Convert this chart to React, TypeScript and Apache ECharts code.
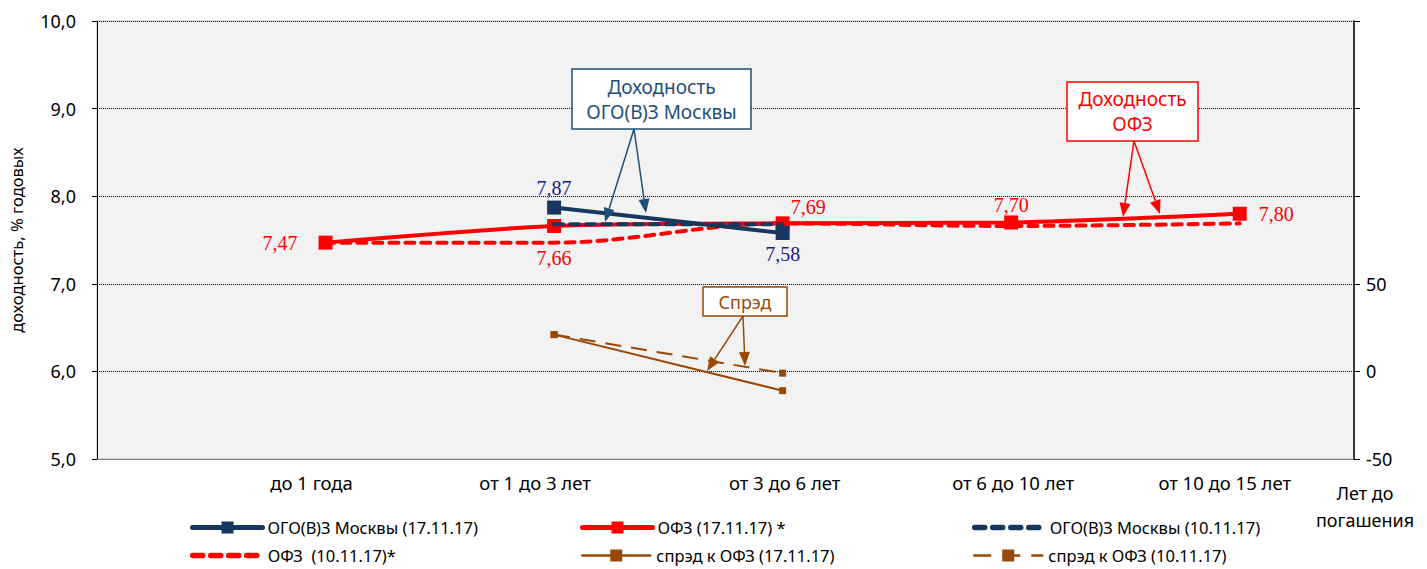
import React, { useEffect, useRef } from "react";
import * as echarts from "echarts";

const categories = ["до 1 года", "от 1 до 3 лет", "от 3 до 6 лет", "от 6 до 10 лет", "от 10 до 15 лет"];
const ogoNov17: (number | null)[] = [null, 7.87, 7.58, null, null];
const ofzNov17: (number | null)[] = [7.47, 7.66, 7.69, 7.7, 7.8];
const ogoNov10: (number | null)[] = [null, 7.68, 7.68, null, null];
const ofzNov10: (number | null)[] = [7.47, 7.47, 7.69, 7.66, 7.69];
const spreadNov17: (number | null)[] = [null, 21, -11, null, null];
const spreadNov10: (number | null)[] = [null, 21, -1, null, null];

const names = [
  "ОГО(В)З Москвы (17.11.17)",
  "ОФЗ (17.11.17) *",
  "ОГО(В)З Москвы (10.11.17)",
  "ОФЗ  (10.11.17)*",
  "спрэд к ОФЗ (17.11.17)",
  "спрэд к ОФЗ (10.11.17)",
];

const NAVY = "#17375e";
const RED = "#ff0000";
const BROWN = "#984807";
const SANS = "'Noto Sans', sans-serif";
const SERIF = "'Liberation Serif', 'DejaVu Serif', serif";

const fmt = (v: number) => v.toFixed(2).replace(".", ",");

function pairs(arr: (number | null)[]) {
  const out: any[] = [];
  arr.forEach((v, i) => {
    if (v !== null) out.push([i, v]);
  });
  return out;
}

function arrow(x1: number, y1: number, x2: number, y2: number, color: string) {
  const dx = x2 - x1;
  const dy = y2 - y1;
  const len = Math.sqrt(dx * dx + dy * dy);
  const ux = dx / len;
  const uy = dy / len;
  const hl = 14;
  const hw = 5.5;
  const bx = x2 - ux * hl;
  const by = y2 - uy * hl;
  return [
    {
      type: "line",
      shape: { x1, y1, x2: bx, y2: by },
      style: { stroke: color, lineWidth: 1.5 },
      z: 100,
    },
    {
      type: "polygon",
      shape: {
        points: [
          [x2, y2],
          [bx - uy * hw, by + ux * hw],
          [bx + uy * hw, by - ux * hw],
        ],
      },
      style: { fill: color },
      z: 100,
    },
  ];
}

function box(x: number, y: number, w: number, h: number, color: string, text: string, fontSize: number) {
  return [
    {
      type: "rect",
      shape: { x, y, width: w, height: h },
      style: { fill: "#ffffff", stroke: color, lineWidth: 1.5 },
      z: 100,
    },
    {
      type: "text",
      x: x + w / 2,
      y: y + h / 2,
      style: {
        text,
        fill: color,
        font: `${fontSize}px ${SANS}`,
        align: "center",
        verticalAlign: "middle",
        lineHeight: fontSize + 6,
      },
      z: 101,
    },
  ];
}

export default function App() {
  const ref = useRef<HTMLDivElement>(null);

  useEffect(() => {
    if (!ref.current) return;
    const chart = echarts.init(ref.current, undefined, { renderer: "svg" });

    const ofzLabelPos: any[] = [
      { position: "left", distance: 21 },
      { position: "bottom", distance: 15 },
      { position: "right", distance: 1, offset: [0, -16] },
      { position: "top", distance: 0 },
      { position: "right", distance: 12 },
    ];
    const ogoLabelPos: any[] = [null, { position: "top", distance: 3 }, { position: "bottom", distance: 4 }, null, null];

    const labelBase = {
      show: true,
      fontFamily: SERIF,
      fontSize: 20,
      formatter: (p: any) => fmt(p.value[1]),
    };

    const ofz17Data = pairs(ofzNov17).map((d) => ({
      value: d,
      label: { ...labelBase, color: RED, ...ofzLabelPos[d[0]] },
    }));
    const ogo17Data = pairs(ogoNov17).map((d) => ({
      value: d,
      label: { ...labelBase, color: "#1c1c7e", ...ogoLabelPos[d[0]] },
    }));

    const IW = 70;
    const textStarts = [265, 655, 1047];
    const rows = [519, 547];
    const legendCells = [
      [0, 0],
      [1, 0],
      [2, 0],
      [0, 1],
      [1, 1],
      [2, 1],
    ];
    const legendColors = [NAVY, RED, NAVY, RED, BROWN, BROWN];
    const legendLine: any[] = [
      { width: 5, type: "solid", cap: "round" },
      { width: 5, type: "solid", cap: "round" },
      { width: 5.5, type: [10, 8], cap: "round" },
      { width: 5.5, type: [10, 8], cap: "round" },
      { width: 2.5, type: "solid" },
      { width: 2.5, type: [18, 11] },
    ];
    const noMarker = [false, false, true, true, false, false];

    const labelShift = [
      { padding: [0, 28, 0, 0] },
      { padding: [0, 38, 0, 0] },
      { padding: [0, 0, 0, 4] },
      { padding: [0, 0, 0, 4] },
      { padding: [0, 30, 0, 0] },
    ];
    const rich: any = {};
    labelShift.forEach((s, i) => {
      rich["c" + i] = { ...s, fontFamily: SANS, fontSize: 18.5, color: "#000" };
    });

    const option: any = {
      animation: false,
      backgroundColor: "#ffffff",
      grid: {
        left: 91,
        right: 73,
        top: 21,
        bottom: 110,
        show: true,
        backgroundColor: "#f2f2f2",
        borderColor: "#bfbfbf",
        borderWidth: 1,
      },
      legend: names.map((n, i) => ({
        data: [n],
        left: textStarts[legendCells[i][0]] - IW - 5,
        top: rows[legendCells[i][1]],
        padding: 0,
        itemWidth: IW,
        itemHeight: 15,
        itemStyle: noMarker[i] ? { opacity: 0 } : { color: legendColors[i] },
        lineStyle: { color: legendColors[i], ...legendLine[i] },
        textStyle: { fontFamily: SANS, fontSize: 16.5, color: "#000" },
        selectedMode: false,
      })),
      xAxis: {
        type: "value",
        min: -1,
        max: 4.5,
        interval: 1,
        splitLine: { show: false },
        axisTick: { show: false },
        axisLine: { show: true, onZero: false, lineStyle: { color: "#808080", width: 1 } },
        axisLabel: {
          color: "#000",
          fontFamily: SANS,
          fontSize: 18.5,
          margin: 14,
          showMaxLabel: false,
          rich,
          formatter: (v: number) =>
            Number.isInteger(v) && v >= 0 && categories[v] ? `{c${v}|${categories[v]}}` : "",
        },
      },
      yAxis: [
        {
          type: "value",
          min: 5,
          max: 10,
          interval: 1,
          name: "доходность, % годовых",
          nameLocation: "middle",
          nameGap: 72,
          nameTextStyle: { fontFamily: SANS, fontSize: 16.5, color: "#000" },
          axisLine: { show: true, onZero: false, lineStyle: { color: "#000", width: 1 } },
          axisTick: { show: true, inside: false, length: 5, lineStyle: { color: "#000" } },
          axisLabel: {
            color: "#000",
            fontFamily: SANS,
            fontSize: 18,
            margin: 21,
            formatter: (v: number) => v.toFixed(1).replace(".", ","),
          },
          splitLine: {
            show: true,
            lineStyle: { color: "#000", type: [1, 1], width: 1 },
          },
        },
        {
          type: "value",
          min: -50,
          max: 200,
          interval: 50,
          position: "right",
          axisLine: { show: true, onZero: false, lineStyle: { color: "#000", width: 1.5 } },
          axisTick: { show: true, inside: false, length: 6, lineStyle: { color: "#000" } },
          axisLabel: {
            color: "#000",
            fontFamily: SANS,
            fontSize: 18,
            margin: 12,
            formatter: (v: number) => (v <= 50 ? String(v) : ""),
          },
          splitLine: { show: false },
        },
      ],
      series: [
        {
          name: names[3],
          type: "line",
          data: pairs(ofzNov10),
          smooth: 0.35,
          symbol: "none",
          lineStyle: { color: RED, width: 4, type: [9, 7], cap: "round" },
          itemStyle: { color: RED },
          z: 2,
        },
        {
          name: names[1],
          type: "line",
          data: ofz17Data,
          smooth: 0.25,
          symbol: "rect",
          symbolSize: 14,
          lineStyle: { color: RED, width: 4 },
          itemStyle: { color: RED },
          z: 3,
        },
        {
          name: names[0],
          type: "line",
          data: ogo17Data,
          symbol: "rect",
          symbolSize: 14,
          lineStyle: { color: NAVY, width: 4 },
          itemStyle: { color: NAVY },
          z: 4,
        },
        {
          name: names[2],
          type: "line",
          data: pairs(ogoNov10),
          symbol: "none",
          lineStyle: { color: NAVY, width: 4, type: [9, 7], cap: "round" },
          itemStyle: { color: NAVY },
          z: 5,
        },
        {
          name: names[4],
          type: "line",
          yAxisIndex: 1,
          data: pairs(spreadNov17),
          symbol: "rect",
          symbolSize: 7,
          lineStyle: { color: BROWN, width: 2 },
          itemStyle: { color: BROWN },
          z: 4,
        },
        {
          name: names[5],
          type: "line",
          yAxisIndex: 1,
          data: pairs(spreadNov10),
          symbol: "rect",
          symbolSize: 7,
          lineStyle: { color: BROWN, width: 2, type: [16, 10] },
          itemStyle: { color: BROWN },
          z: 4,
        },
      ],
      graphic: [
        ...box(572, 69, 179, 60, "#1f4e79", "Доходность\nОГО(В)З Москвы", 19),
        ...arrow(634, 129, 605, 222, "#1f4e79"),
        ...arrow(634, 129, 646, 213, "#1f4e79"),
        ...box(1067, 82, 131, 59, RED, "Доходность\nОФЗ", 19),
        ...arrow(1134, 141, 1123, 217, RED),
        ...arrow(1134, 141, 1160, 214, RED),
        ...box(703, 287, 84, 29, BROWN, "Спрэд", 18),
        ...arrow(743, 316, 707, 371, BROWN),
        ...arrow(743, 316, 745, 366, BROWN),
        {
          type: "text",
          x: 1365,
          y: 479,
          style: {
            text: "Лет до\nпогашения",
            fill: "#000",
            font: `18px ${SANS}`,
            align: "center",
            lineHeight: 27,
          },
        },
      ],
    };

    chart.setOption(option);
    return () => chart.dispose();
  }, []);

  return <div ref={ref} style={{ width: 1427, height: 569, position: "absolute", left: 0, top: 0 }} />;
}
